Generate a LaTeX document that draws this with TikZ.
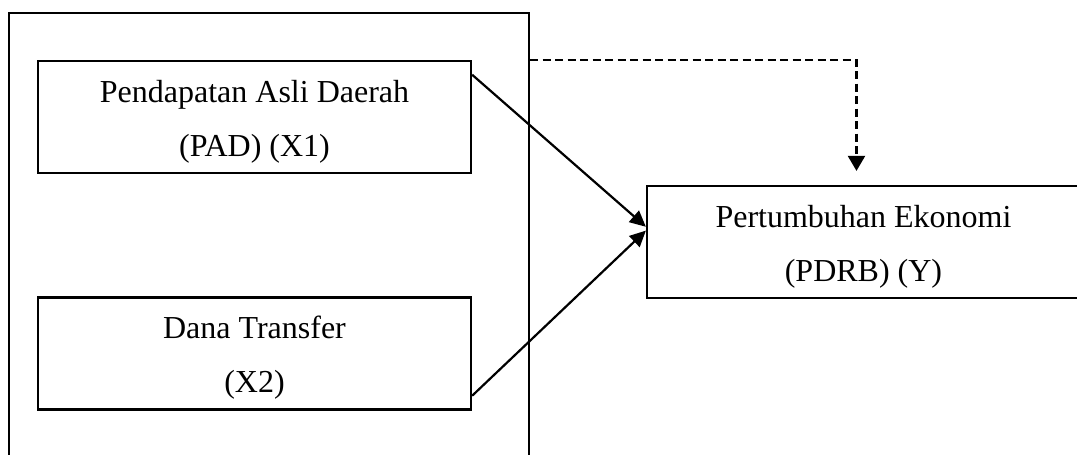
\documentclass[tikz,border=0pt]{standalone}
\usepackage{fontspec}
\setmainfont{Liberation Serif}
\usetikzlibrary{arrows.meta, positioning}
\tikzstyle{groupbox} = [rectangle, draw=black, line width=2.2pt, inner sep=0pt]
\tikzstyle{factor} = [rectangle, text centered, align=center, draw=black, line width=2.2pt, inner sep=0pt, minimum width=433pt, minimum height=112pt, text height=85pt, text depth=7pt, font=\fontsize{32}{54}\selectfont]
\tikzstyle{effect} = [line width=2.2pt, black, -{Triangle[length=16pt, width=15pt]}]
\tikzstyle{moderating} = [line width=2.2pt, black, dash pattern=on 8pt off 4.5pt, -{Triangle[length=15pt, width=17pt]}]

\begin{document}
\begin{tikzpicture}[x=1pt, y=-1pt]

    \useasboundingbox (0, 0) rectangle (1077, 455);
    \clip (0, 0) rectangle (1077, 455);

    % outer frame runs past the bottom of the page
    \node (group) [groupbox, minimum width=520pt, minimum height=457pt] at (269, 241.5) {};

    \node (pad) [factor] at (254.5, 117) {Pendapatan Asli Daerah\\(PAD) (X1)};
    \node (dana) [factor] at (254.5, 353.5) {Dana Transfer\\(X2)};

    % right side of this box is cut off by the page
    \node (pdrb) [factor] at (863.5, 242) {Pertumbuhan Ekonomi\\(PDRB) (Y)};

    \draw [effect] (pad.11.5) -- (pdrb.176.3);
    \draw [effect] (dana.349) -- (pdrb.177);

    \coordinate (joint) at (group.north east |- pad.north);
    \draw [moderating, shorten >=14pt] (joint) -| (pdrb.97);

\end{tikzpicture}
\end{document}
